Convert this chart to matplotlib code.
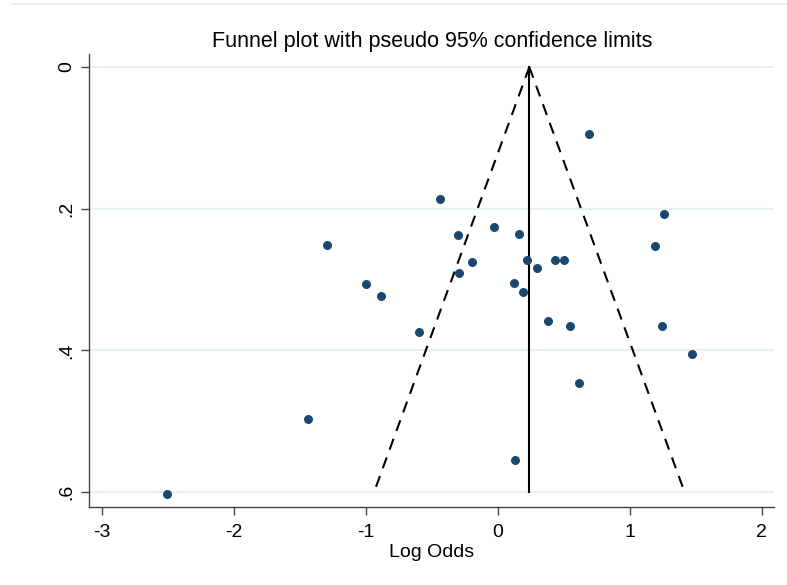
import numpy as np
import matplotlib
matplotlib.use("Agg")
from matplotlib import pyplot as plt
from matplotlib.lines import Line2D

# study estimates (log odds) and their standard errors
log_odds = [0.692, -0.437, 1.262, -0.298, -0.028, 0.159, 1.194, -0.197, 0.224,
            0.434, 0.500, 0.295, -0.291, 0.126, 0.194, -1.291, -0.998, -0.886,
            -1.437, -2.502, -0.596, 0.381, 0.548, 1.245, 1.474, 0.616, 0.131]
std_err = [0.094, 0.186, 0.207, 0.237, 0.226, 0.235, 0.253, 0.275, 0.273,
           0.273, 0.273, 0.283, 0.291, 0.305, 0.317, 0.251, 0.306, 0.323,
           0.497, 0.603, 0.374, 0.359, 0.366, 0.365, 0.405, 0.446, 0.555]
pooled = 0.239
se_max = 0.6
x_ticks = [-3, -2, -1, 0, 1, 2]
y_ticks = [0, 0.2, 0.4, 0.6]
y_labels = ["0", ".2", ".4", ".6"]

plt.rcParams["font.family"] = ["Liberation Sans", "DejaVu Sans"]

fig = plt.figure(figsize=(7.87, 5.85), dpi=100)
ax = fig.add_axes([0.1135, 0.1328, 0.8704, 0.7744])

# faint border line at the top of the graph region
fig.add_artist(Line2D([12 / 787, 1.0], [1 - 4.3 / 585] * 2, color="#e6eef0", lw=1.2))

for yt in y_ticks:
    ax.axhline(yt, color="#e8f1f2", lw=1.6, zorder=0)

se_line = np.array([0, se_max])
ax.plot([pooled, pooled], se_line, color="black", lw=1.5, zorder=2)
ax.plot(pooled - 1.96 * se_line, se_line, color="black", lw=1.5,
        dashes=(5.5, 4), zorder=2)
ax.plot(pooled + 1.96 * se_line, se_line, color="black", lw=1.5,
        dashes=(5.5, 4), zorder=2)

ax.scatter(log_odds, std_err, s=42, color="#1a476f", zorder=3, linewidths=0)

ax.set_xlim(-3.094, 2.095)
ax.set_ylim(0.6215, -0.018)
ax.set_xticks(x_ticks)
ax.set_yticks(y_ticks)
ax.set_yticklabels(y_labels, rotation=90, va="center")
ax.set_xticklabels([str(t) for t in x_ticks])

for side in ["top", "right"]:
    ax.spines[side].set_visible(False)
for side in ["left", "bottom"]:
    ax.spines[side].set_color("#444444")
    ax.spines[side].set_linewidth(1.0)
ax.tick_params(direction="out", length=6, width=1.0, color="#444444",
               labelsize=14, pad=4)
ax.tick_params(axis="x", pad=6)

ax.set_xlabel("Log Odds", fontsize=14, labelpad=2)
ax.set_title("Funnel plot with pseudo 95% confidence limits", fontsize=15.5, pad=5)

fig.savefig("out.png", dpi=100)
